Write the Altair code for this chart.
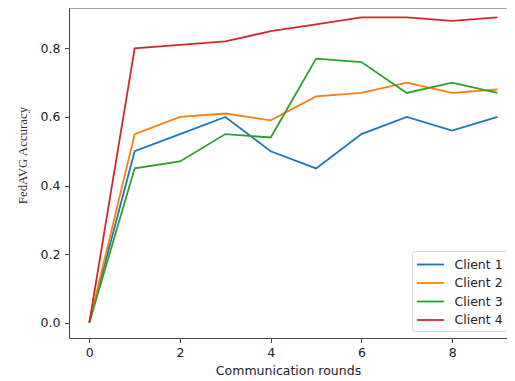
import altair as alt
import pandas as pd

rounds = [0, 1, 2, 3, 4, 5, 6, 7, 8, 9]
client1 = [0.0, 0.50, 0.55, 0.60, 0.50, 0.45, 0.55, 0.60, 0.56, 0.60]
client2 = [0.0, 0.55, 0.60, 0.61, 0.59, 0.66, 0.67, 0.70, 0.67, 0.68]
client3 = [0.0, 0.45, 0.47, 0.55, 0.54, 0.77, 0.76, 0.67, 0.70, 0.67]
client4 = [0.0, 0.80, 0.81, 0.82, 0.85, 0.87, 0.89, 0.89, 0.88, 0.89]
series_names = ["Client 1", "Client 2", "Client 3", "Client 4"]
series_colors = ["#1f77b4", "#ff7f0e", "#2ca02c", "#d62728"]
x_ticks = [0, 2, 4, 6, 8]
y_ticks = [0.0, 0.2, 0.4, 0.6, 0.8]

rows = []
for name, vals in zip(series_names, [client1, client2, client3, client4]):
    for r, v in zip(rounds, vals):
        rows.append({"round": r, "acc": v, "client": name})
df = pd.DataFrame(rows)

W, H = 438, 330

lines = alt.Chart(df).mark_line(strokeWidth=1.8).encode(
    x=alt.X("round:Q",
            scale=alt.Scale(domain=[-0.448, 9.21], nice=False, zero=False),
            axis=alt.Axis(values=x_ticks, format="d", title="Communication rounds",
                          grid=False, tickSize=4.5, labelPadding=3.5, titlePadding=6)),
    y=alt.Y("acc:Q",
            scale=alt.Scale(domain=[-0.0446, 0.9176], nice=False, zero=False),
            axis=alt.Axis(values=y_ticks, format=".1f", title="FedAVG Accuracy",
                          grid=False, tickSize=4.5, labelPadding=4.5,
                          titleFont="Liberation Serif", titleFontSize=12.9,
                          titleFontWeight="normal", titleColor="#333",
                          titleAngle=270, titleAlign="center", titleBaseline="middle",
                          titleX=-47, titleY=147)),
    color=alt.Color("client:N",
                    scale=alt.Scale(domain=series_names, range=series_colors),
                    legend=alt.Legend(title=None, orient="none", legendX=343, legendY=243,
                                      symbolType="M-1.7,0H1.7", symbolSize=256,
                                      symbolStrokeWidth=1.8, symbolOffset=5,
                                      labelOffset=15, rowPadding=2.5, padding=4.5,
                                      fillColor="white", strokeColor="#d6d6d6",
                                      cornerRadius=3, labelFont="DejaVu Sans",
                                      labelFontSize=12.5, labelColor="#222")),
)

top_spine = alt.Chart(pd.DataFrame({"a": [0]})).mark_rule(color="#444", strokeWidth=1).encode(
    x=alt.value(0), x2=alt.value(W), y=alt.value(0)
)

chart = alt.layer(lines, top_spine).properties(
    width=W, height=H,
    autosize=alt.AutoSizeParams(type="none"),
    padding={"left": 61, "top": 0, "right": 0, "bottom": 43},
).configure_view(stroke=None).configure_axis(
    domainColor="#444", tickColor="#444", labelColor="#222", titleColor="#222",
    labelFont="DejaVu Sans", labelFontSize=12.5, titleFont="DejaVu Sans",
    titleFontSize=12.5, titleFontWeight="normal", domainWidth=1, tickWidth=1,
)

chart.save("out.html", embed_options={"renderer": "svg", "actions": False})
